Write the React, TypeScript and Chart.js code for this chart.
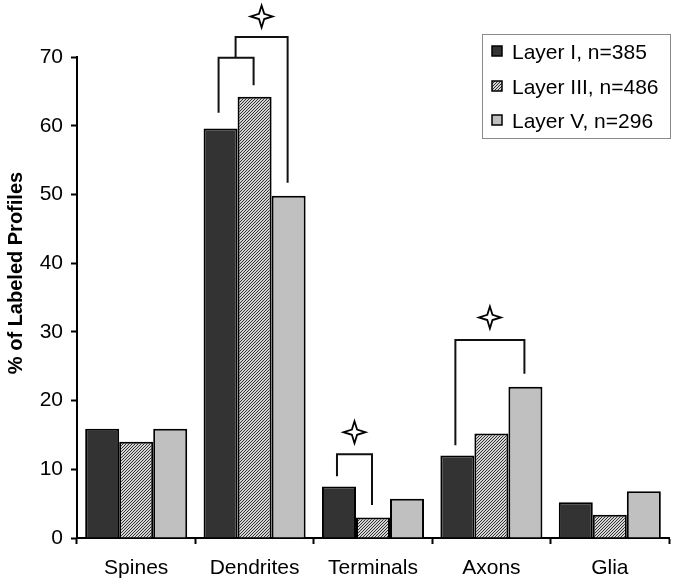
import React, { useEffect, useRef } from "react";
import { Chart, registerables } from "chart.js";

Chart.register(...registerables);

const categories = ["Spines", "Dendrites", "Terminals", "Axons", "Glia"];
const seriesLabels = ["Layer I, n=385", "Layer III, n=486", "Layer V, n=296"];
const layerI = [15.9, 59.6, 7.5, 12.0, 5.2];
const layerIII = [14.0, 64.2, 3.0, 15.2, 3.4];
const layerV = [15.9, 49.8, 5.7, 22.0, 6.8];
const yMin = 0;
const yMax = 70;
const yStep = 10;
const yTitle = "% of Labeled Profiles";

// significance brackets (category, from series, to series, top value, left end value, right end value)
const bracketCat = [1, 1, 2, 3];
const bracketFrom = [0, 0.5, 0, 0];
const bracketTo = [1, 2, 1, 2];
const bracketTop = [69.9, 72.9, 12.2, 28.8];
const bracketLeftEnd = [61.9, 69.9, 9.0, 13.5];
const bracketRightEnd = [65.9, 51.7, 4.8, 23.9];
// stars placed above brackets (bracket index, value)
const starBracket = [1, 2, 3];
const starValue = [75.9, 15.4, 32.1];

const FONT = "'Liberation Sans', Arial, Helvetica, sans-serif";

function makeHatch(): CanvasPattern | string {
  const c = document.createElement("canvas");
  c.width = 3;
  c.height = 3;
  const g = c.getContext("2d");
  if (!g) return "#999";
  g.fillStyle = "#d4d4d4";
  g.fillRect(0, 0, 3, 3);
  g.fillStyle = "#303030";
  g.fillRect(0, 2, 1, 1);
  g.fillRect(1, 1, 1, 1);
  g.fillRect(2, 0, 1, 1);
  const p = g.createPattern(c, "repeat");
  return p || "#999";
}

function drawStar(ctx: CanvasRenderingContext2D, cx: number, cy: number) {
  const r = 11;
  const w = 2.6;
  ctx.beginPath();
  ctx.moveTo(cx, cy - r);
  ctx.lineTo(cx + w, cy - w);
  ctx.lineTo(cx + r, cy);
  ctx.lineTo(cx + w, cy + w);
  ctx.lineTo(cx, cy + r);
  ctx.lineTo(cx - w, cy + w);
  ctx.lineTo(cx - r, cy);
  ctx.lineTo(cx - w, cy - w);
  ctx.closePath();
  ctx.fillStyle = "#ffffff";
  ctx.fill();
  ctx.lineWidth = 1.8;
  ctx.strokeStyle = "#000";
  ctx.lineJoin = "miter";
  ctx.stroke();
}

export default function App() {
  const ref = useRef<HTMLCanvasElement | null>(null);

  useEffect(() => {
    document.body.style.margin = "0";
    const canvas = ref.current;
    if (!canvas) return;
    const hatch = makeHatch();
    const fills: any[] = ["#333333", hatch, "#c0c0c0"];

    const extras = {
      id: "extras",
      afterDraw(chart: any) {
        const ctx: CanvasRenderingContext2D = chart.ctx;
        const y = chart.scales.y;
        const metas = [0, 1, 2].map((i) => chart.getDatasetMeta(i));
        const xAt = (cat: number, f: number) => {
          const a = Math.floor(f);
          const b = Math.ceil(f);
          const xa = metas[a].data[cat].x;
          const xb = metas[b].data[cat].x;
          return xa + (xb - xa) * (f - a);
        };
        ctx.save();
        // brackets
        ctx.strokeStyle = "#111";
        ctx.lineWidth = 2;
        ctx.lineCap = "butt";
        const mids: number[] = [];
        for (let i = 0; i < bracketCat.length; i++) {
          const x1 = xAt(bracketCat[i], bracketFrom[i]) - 2;
          const x2 = xAt(bracketCat[i], bracketTo[i]) - 1;
          const yt = y.getPixelForValue(bracketTop[i]);
          ctx.beginPath();
          ctx.moveTo(x1, y.getPixelForValue(bracketLeftEnd[i]));
          ctx.lineTo(x1, yt);
          ctx.lineTo(x2, yt);
          ctx.lineTo(x2, y.getPixelForValue(bracketRightEnd[i]));
          ctx.stroke();
          mids.push((x1 + x2) / 2);
        }
        for (let i = 0; i < starBracket.length; i++) {
          drawStar(ctx, mids[starBracket[i]], y.getPixelForValue(starValue[i]));
        }
        // y title
        ctx.save();
        ctx.translate(16, 273);
        ctx.rotate(-Math.PI / 2);
        ctx.font = `bold 20px ${FONT}`;
        ctx.fillStyle = "#000";
        ctx.textAlign = "center";
        ctx.textBaseline = "middle";
        ctx.fillText(yTitle, 0, 0);
        ctx.restore();
        // legend
        const bx = 482, by = 34, bw = 188, bh = 104;
        ctx.fillStyle = "#fff";
        ctx.fillRect(bx, by, bw, bh);
        ctx.strokeStyle = "#8a8a8a";
        ctx.lineWidth = 1;
        ctx.strokeRect(bx + 0.5, by + 0.5, bw, bh);
        const rows = [51, 86, 120];
        ctx.font = `21px ${FONT}`;
        ctx.textAlign = "left";
        ctx.textBaseline = "middle";
        for (let i = 0; i < 3; i++) {
          ctx.fillStyle = fills[i];
          ctx.fillRect(492, rows[i] - 5, 10, 10);
          ctx.strokeStyle = "#000";
          ctx.lineWidth = 1.5;
          ctx.strokeRect(492, rows[i] - 5, 10, 10);
          ctx.fillStyle = "#000";
          ctx.fillText(chart.data.datasets[i].label, 512, rows[i] + 2);
        }
        ctx.restore();
      },
    };

    const seriesData = [layerI, layerIII, layerV];
    const chart = new Chart(canvas, {
      type: "bar",
      data: {
        labels: categories,
        datasets: seriesData.map((d, i) => ({
          label: seriesLabels[i],
          data: d,
          backgroundColor: fills[i],
          borderColor: "#000",
          borderWidth: 2,
          barPercentage: 1,
          categoryPercentage: 0.862,
        })),
      },
      options: {
        responsive: false,
        animation: false,
        devicePixelRatio: 1,
        layout: { padding: { top: 57, right: 6, left: 0, bottom: 0 } },
        plugins: {
          legend: { display: false },
          tooltip: { enabled: false },
        },
        scales: {
          x: {
            grid: {
              offset: true,
              drawOnChartArea: false,
              drawTicks: true,
              tickLength: 6,
              tickWidth: 2,
              tickColor: "#000",
              color: "#000",
            },
            border: { display: true, color: "#000", width: 2 },
            ticks: {
              color: "#000",
              font: { family: FONT, size: 21 },
              padding: 12,
              maxRotation: 0,
            },
            afterFit: (s: any) => {
              s.height = 47;
            },
          },
          y: {
            min: yMin,
            max: yMax,
            grid: {
              drawOnChartArea: false,
              drawTicks: true,
              tickLength: 6,
              tickWidth: 2,
              tickColor: "#000",
              color: "#000",
            },
            border: { display: true, color: "#000", width: 2 },
            ticks: {
              stepSize: yStep,
              color: "#000",
              font: { family: FONT, size: 21 },
              padding: 8,
            },
            afterFit: (s: any) => {
              s.width = 77;
            },
          },
        },
      },
      plugins: [extras],
    });
    return () => chart.destroy();
  }, []);

  return (
    <div style={{ width: 675, height: 585, background: "#fff" }}>
      <canvas ref={ref} width={675} height={585} style={{ display: "block" }} />
    </div>
  );
}
